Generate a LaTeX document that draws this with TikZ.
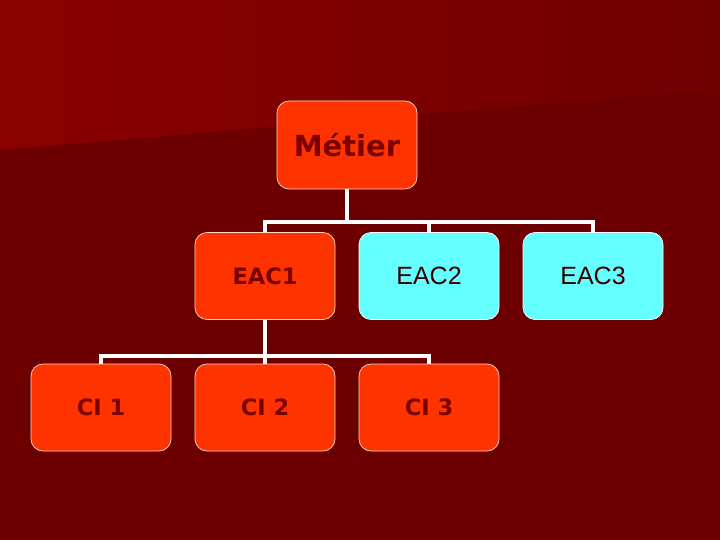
\documentclass[tikz,border=0pt]{standalone}
\usepackage{fontspec}
\setmainfont{DejaVu Sans}
\newfontfamily\lsans{Liberation Sans}
\definecolor{bgdark}{HTML}{6C0000}
\definecolor{bgleft}{HTML}{8A0000}
\definecolor{bgright}{HTML}{700000}
\definecolor{boxred}{HTML}{FF3300}
\definecolor{boxcyan}{HTML}{66FFFF}
\definecolor{txtred}{HTML}{7A0000}
\definecolor{txtdark}{HTML}{330000}
\definecolor{edgepale}{HTML}{FFD8C8}
\tikzset{
  redbox/.style={draw=edgepale, line width=0.7pt, fill=boxred, rounded corners=12pt,
    minimum width=140pt, minimum height=87pt, inner sep=0pt, text=txtred, font=\bfseries\fontsize{22.5}{26}\selectfont},
  cyanbox/.style={draw=white, line width=0.7pt, fill=boxcyan, rounded corners=12pt,
    minimum width=140pt, minimum height=87pt, inner sep=0pt, text=txtdark, font=\lsans\fontsize{25}{28}\selectfont},
  link/.style={draw=white, line width=3.2pt}
}
\begin{document}
\begin{tikzpicture}[x=1pt,y=-1pt]
\useasboundingbox (0,0) rectangle (720,540);
\fill[bgdark] (0,0) rectangle (720,540);
\shade[left color=bgleft, right color=bgright] (0,0) -- (720,0) -- (720,89) -- (0,150) -- cycle;

\node[redbox, minimum height=88pt, font=\bfseries\fontsize{29}{33}\selectfont] (metier) at (347,145) {Métier};
\node[redbox] (eac1) at (265,276) {EAC1};
\node[cyanbox] (eac2) at (429,276) {EAC2};
\node[cyanbox] (eac3) at (593,276) {EAC3};
\node[redbox] (ci1) at (101,407.5) {CI 1};
\node[redbox] (ci2) at (265,407.5) {CI 2};
\node[redbox] (ci3) at (429,407.5) {CI 3};

\coordinate (j1) at (347,222);
\coordinate (j2) at (265,356);
\draw[link] (metier.south) -- (j1);
\draw[link] (eac1.north) |- (j1) -| (eac3.north);
\draw[link] (j1 -| eac2.north) -- (eac2.north);
\draw[link] (eac1.south) -- (j2);
\draw[link] (ci1.north) |- (j2) -| (ci3.north);
\draw[link] (j2) -- (ci2.north);
\end{tikzpicture}
\end{document}
